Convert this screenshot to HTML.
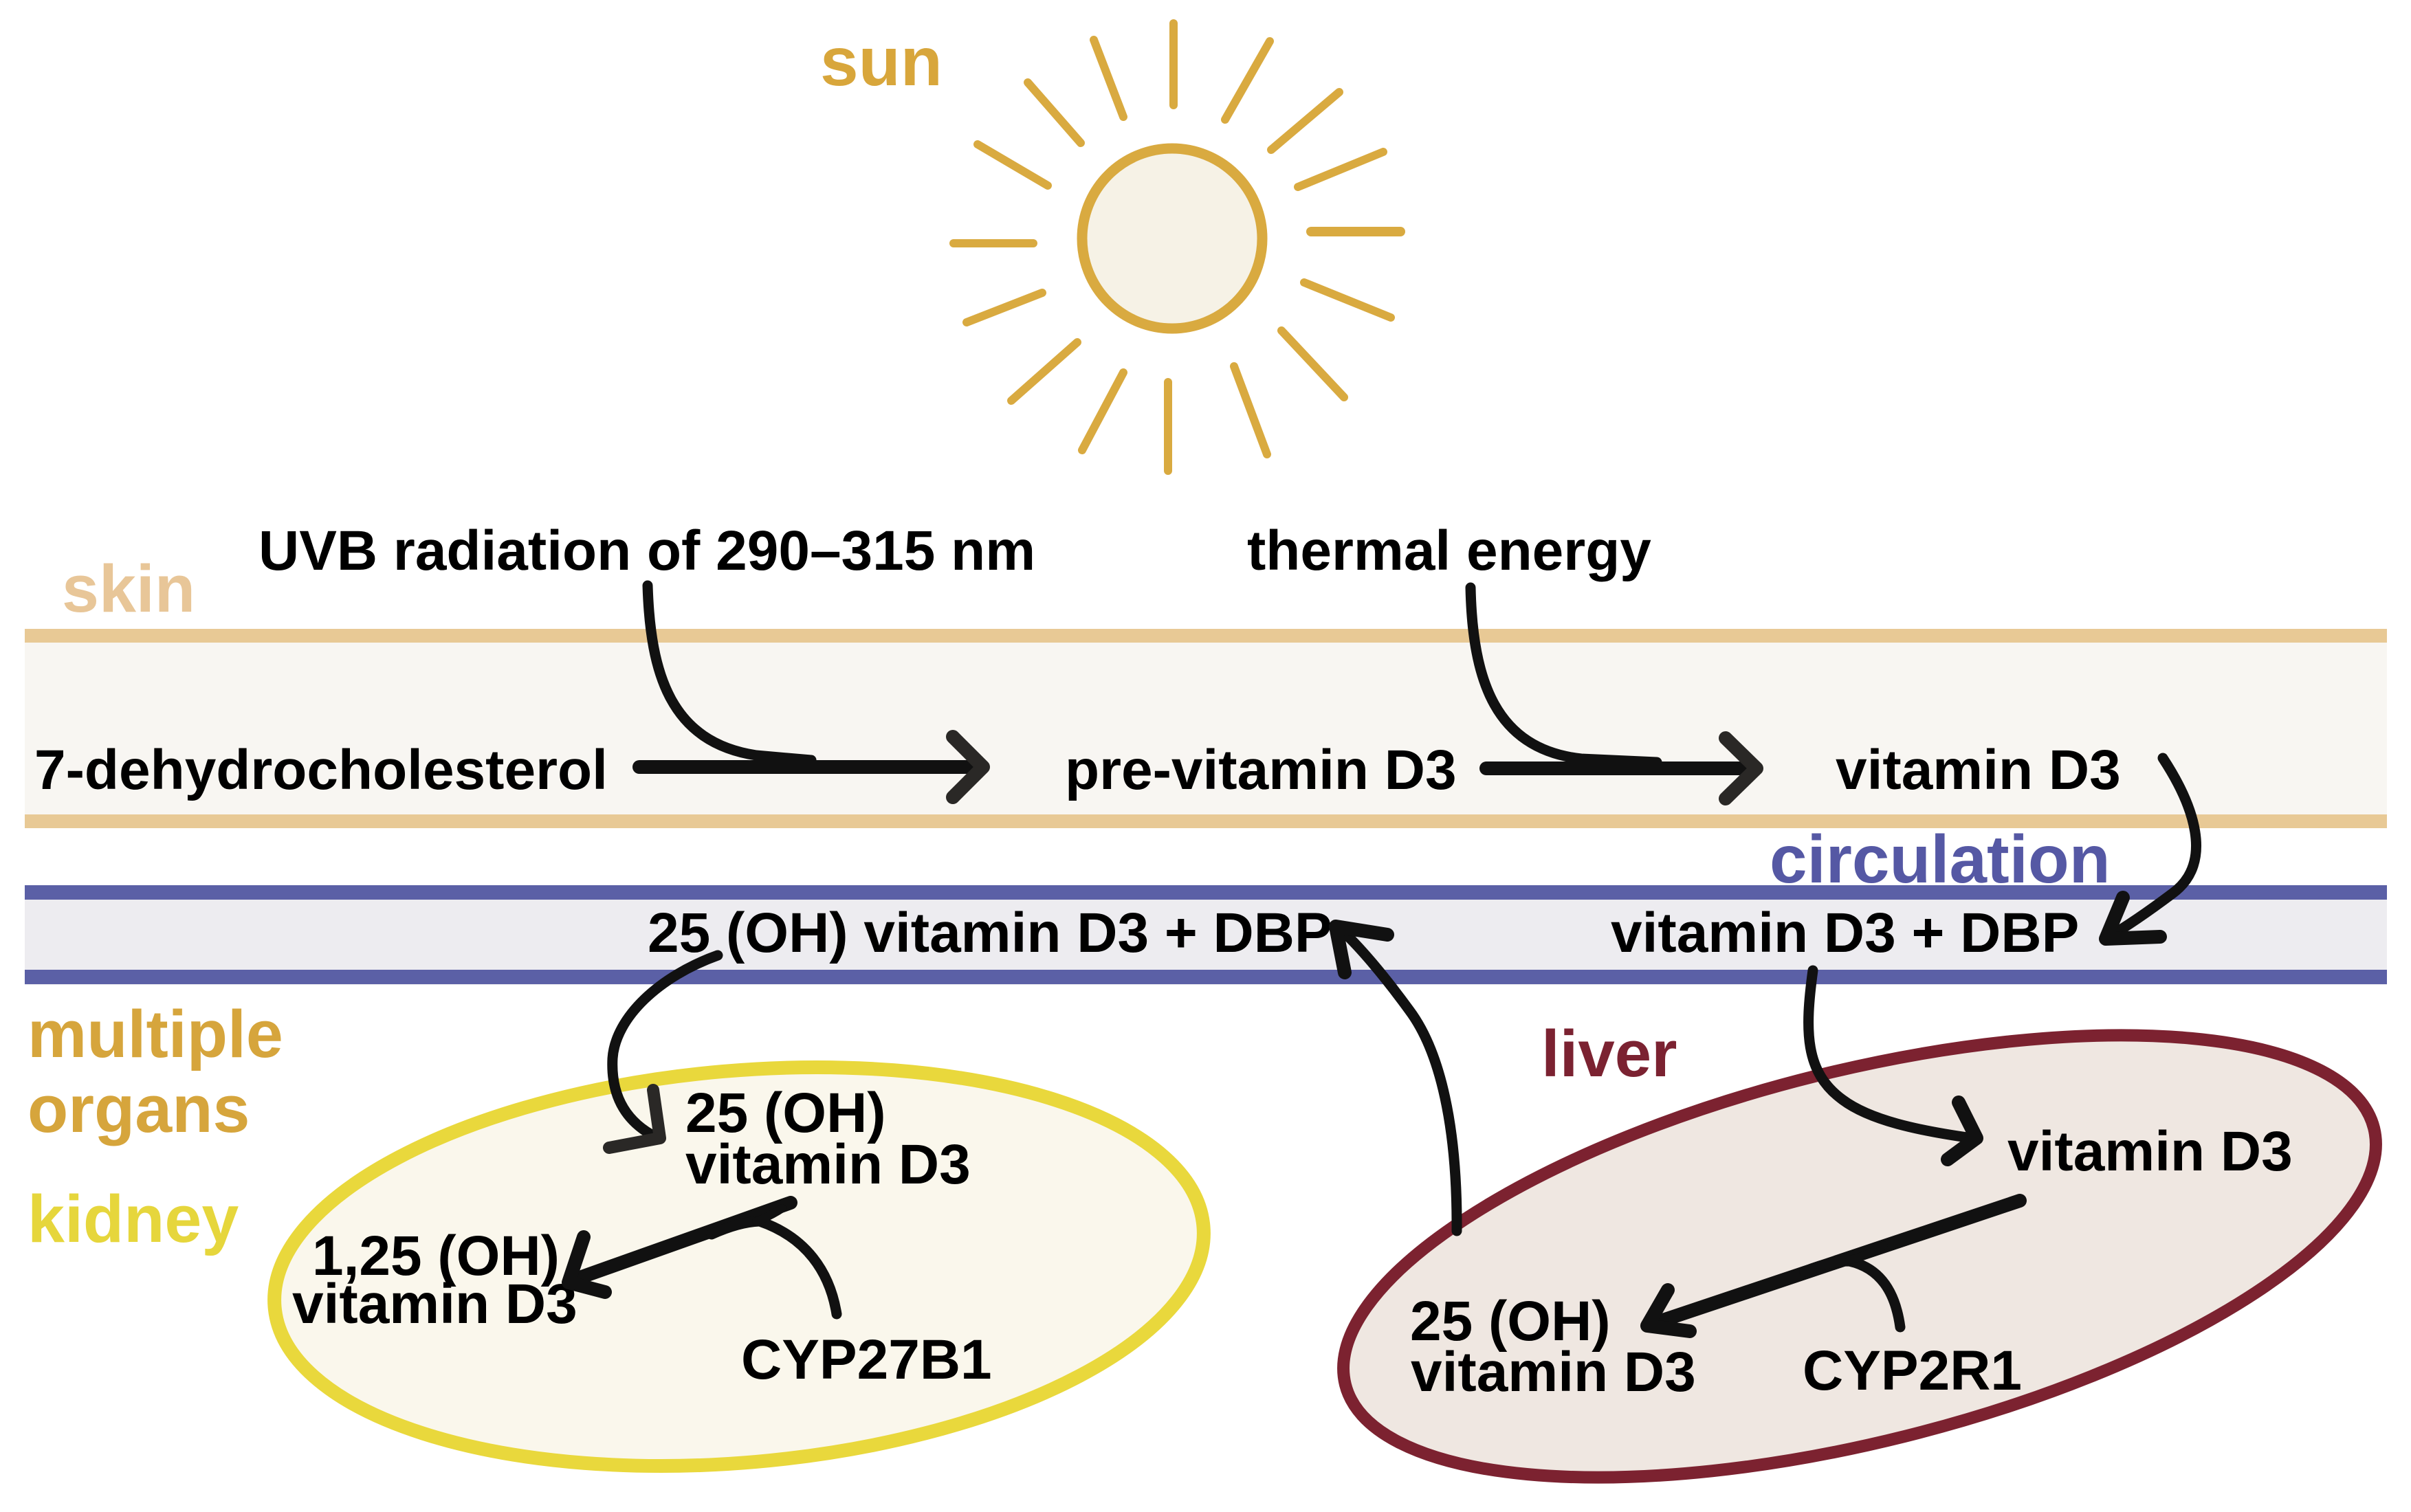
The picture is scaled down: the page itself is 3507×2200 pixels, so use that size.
<!DOCTYPE html>
<html>
<head>
<meta charset="utf-8">
<style>
  html, body { margin:0; padding:0; background:#ffffff; }
  body { width:3507px; height:2200px; overflow:hidden; }
  svg { display:block; }
  text { font-family: "Liberation Sans", Arial, sans-serif; font-weight: bold; }
</style>
</head>
<body>
<svg width="3507" height="2200" viewBox="0 0 3507 2200" xmlns="http://www.w3.org/2000/svg">
  <rect x="0" y="0" width="3507" height="2200" fill="#ffffff"/>

  <!-- SUN -->
  <g stroke="#D9AA40" stroke-width="12" stroke-linecap="round" fill="none">
    <line x1="1707" y1="34" x2="1707" y2="153"/>
    <line x1="1591" y1="58" x2="1634" y2="170"/>
    <line x1="1495" y1="120" x2="1572" y2="208"/>
    <line x1="1422" y1="210" x2="1524" y2="270"/>
    <line x1="1387" y1="354" x2="1503" y2="354"/>
    <line x1="1406" y1="469" x2="1516" y2="426"/>
    <line x1="1471" y1="583" x2="1567" y2="498"/>
    <line x1="1574" y1="655" x2="1634" y2="542"/>
    <line x1="1699" y1="556" x2="1699" y2="685"/>
    <line x1="1795" y1="533" x2="1843" y2="661"/>
    <line x1="1864" y1="481" x2="1955" y2="578"/>
    <line x1="1897" y1="411" x2="2023" y2="462"/>
    <line x1="1907" y1="337" x2="2037" y2="337" stroke-width="14"/>
    <line x1="1888" y1="272" x2="2012" y2="221"/>
    <line x1="1849" y1="218" x2="1948" y2="134"/>
    <line x1="1782" y1="174" x2="1847" y2="60"/>
  </g>
  <circle cx="1705" cy="347" r="131" fill="#F6F2E6" stroke="#D9AA40" stroke-width="15"/>
  <text x="1193" y="124" font-size="100" fill="#D8A63B">sun</text>

  <!-- SKIN layer -->
  <rect x="36" y="915" width="3436" height="290" fill="#F8F6F2"/>
  <rect x="36" y="915" width="3436" height="20" fill="#E8C995"/>
  <rect x="36" y="1185" width="3436" height="20" fill="#E8C995"/>
  <text x="90" y="890" font-size="97" fill="#E8C698">skin</text>

  <!-- CIRCULATION layer -->
  <rect x="36" y="1288" width="3436" height="145" fill="#EDECF0"/>
  <rect x="36" y="1288" width="3436" height="21" fill="#5B60A6"/>
  <rect x="36" y="1411" width="3436" height="21" fill="#5B60A6"/>
  <text x="2574" y="1284" font-size="98" fill="#5558A4">circulation</text>

  <!-- Top texts -->
  <text x="376" y="829" font-size="82" fill="#000">UVB radiation of 290–315 nm</text>
  <text x="1814" y="829" font-size="82" fill="#000">thermal energy</text>
  <text x="50" y="1148" font-size="82" fill="#000">7-dehydrocholesterol</text>
  <text x="1549" y="1148" font-size="82" fill="#000">pre-vitamin D3</text>
  <text x="2670" y="1148" font-size="82" fill="#000">vitamin D3</text>
  <text x="942" y="1385" font-size="82" fill="#000">25 (OH) vitamin D3 + DBP</text>
  <text x="2343" y="1385" font-size="82" fill="#000">vitamin D3 + DBP</text>

  <!-- Skin arrows -->
  <g fill="none" stroke="#111" stroke-linecap="round" stroke-linejoin="round">
    <path d="M942,852 C946,980 975,1080 1100,1099 L1180,1106" stroke-width="15"/>
    <line x1="930" y1="1116" x2="1425" y2="1116" stroke-width="20"/>
    <path d="M1386,1072 L1430,1116 L1386,1160" stroke-width="20" stroke="#2a2826"/>

    <path d="M2139,855 C2142,990 2175,1090 2300,1104 L2410,1109" stroke-width="15"/>
    <line x1="2162" y1="1118" x2="2550" y2="1118" stroke-width="20"/>
    <path d="M2510,1074 L2555,1118 L2510,1162" stroke-width="20" stroke="#2a2826"/>

    <!-- vitamin D3 -> vitamin D3 + DBP -->
    <path d="M3146,1103 C3190,1170 3222,1255 3160,1300 C3120,1330 3090,1350 3066,1364" stroke-width="15"/>
    <path d="M3088,1306 L3063,1366 L3142,1363" stroke-width="20"/>
  </g>

  <!-- ORGAN labels -->
  <text x="40" y="1538" font-size="97" fill="#D6A53C">multiple</text>
  <text x="40" y="1647" font-size="97" fill="#D6A53C">organs</text>
  <text x="40" y="1807" font-size="97" fill="#E6D63C">kidney</text>
  <text x="2242" y="1566" font-size="96" fill="#7B2231">liver</text>

  <!-- KIDNEY -->
  <ellipse cx="1075" cy="1843" rx="678" ry="285" transform="rotate(-5 1075 1843)" fill="#FAF7EC" stroke="#E9D83C" stroke-width="20"/>
  <!-- LIVER -->
  <ellipse cx="2705" cy="1828" rx="771" ry="270" transform="rotate(-14 2705 1828)" fill="#EFE7E1" stroke="#7C2230" stroke-width="18"/>

  <!-- Kidney texts -->
  <text x="997" y="1647" font-size="82" fill="#000">25 (OH)</text>
  <text x="997" y="1722" font-size="82" fill="#000">vitamin D3</text>
  <text x="454" y="1855" font-size="82" fill="#000">1,25 (OH)</text>
  <text x="425" y="1925" font-size="82" fill="#000">vitamin D3</text>
  <text x="1078" y="2006" font-size="82" fill="#000">CYP27B1</text>

  <!-- Liver texts -->
  <text x="2920" y="1703" font-size="82" fill="#000">vitamin D3</text>
  <text x="2051" y="1950" font-size="82" fill="#000">25 (OH)</text>
  <text x="2052" y="2024" font-size="82" fill="#000">vitamin D3</text>
  <text x="2622" y="2022" font-size="82" fill="#000">CYP2R1</text>

  <!-- Lower arrows -->
  <g fill="none" stroke="#111" stroke-linecap="round" stroke-linejoin="round">
    <!-- circulation -> kidney -->
    <path d="M1044,1390 C960,1420 895,1480 891,1540 C888,1600 915,1635 955,1655" stroke-width="15"/>
    <path d="M950,1586 L960,1656 L886,1670" stroke-width="18" stroke="#2a2826"/>

    <!-- kidney conversion -->
    <line x1="1150" y1="1750" x2="832" y2="1863" stroke-width="20"/>
    <path d="M849,1800 L827,1866 L880,1880" stroke-width="20"/>
    <path d="M1217,1912 C1207,1850 1172,1800 1105,1777 Q1075,1778 1035,1796" stroke-width="15"/>
    <path d="M1100,1777 Q1120,1770 1138,1758" stroke-width="12"/>

    <!-- circulation -> liver -->
    <path d="M2637,1412 C2625,1500 2625,1560 2680,1600 C2720,1630 2790,1645 2868,1656" stroke-width="15"/>
    <path d="M2849,1604 L2875,1656 L2833,1687" stroke-width="20"/>

    <!-- liver conversion -->
    <line x1="2938" y1="1747" x2="2404" y2="1926" stroke-width="20"/>
    <path d="M2426,1877 L2396,1929 L2458,1937" stroke-width="20"/>
    <path d="M2764,1931 C2757,1880 2735,1845 2690,1835 Q2660,1835 2625,1850" stroke-width="15"/>
    <path d="M2690,1833 Q2715,1828 2740,1812" stroke-width="12"/>

    <!-- liver -> circulation -->
    <path d="M2119,1791 C2120,1640 2095,1530 2050,1470 C2010,1415 1975,1375 1950,1352" stroke-width="15"/>
    <path d="M1956,1415 L1943,1348 L2018,1360" stroke-width="20"/>
  </g>
</svg>
</body>
</html>
